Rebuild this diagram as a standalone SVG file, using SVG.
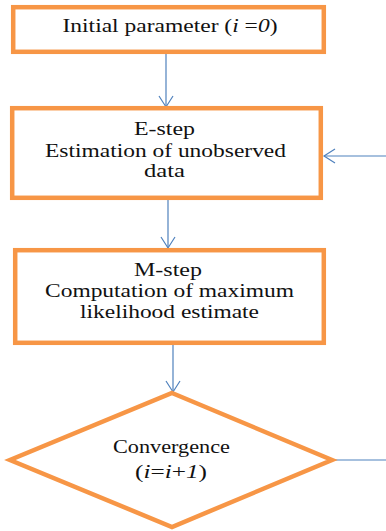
<svg xmlns="http://www.w3.org/2000/svg" width="386" height="531" viewBox="0 0 386 531">
<defs>
<style>
.box{fill:#fff;stroke:#F79646;stroke-width:4.5}
.lnk{fill:none;stroke:#4F81BD;stroke-width:1.2}
.t{font-family:'Liberation Serif','DejaVu Serif',Times,serif;font-size:18px;fill:#111;text-anchor:middle}
.i{font-style:italic}
</style>
<marker id="ah" markerWidth="14" markerHeight="16" refX="12" refY="8" orient="auto" markerUnits="userSpaceOnUse">
<path d="M1,1 L12,8 L1,15" fill="none" stroke="#4F81BD" stroke-width="1.2"/>
</marker>
</defs>
<rect width="386" height="531" fill="#fff"/>
<g id="connectors">
<line class="lnk" x1="166" y1="54" x2="166" y2="107" marker-end="url(#ah)"/>
<line class="lnk" x1="168" y1="200" x2="168" y2="248" marker-end="url(#ah)"/>
<line class="lnk" x1="173" y1="345" x2="173" y2="392" marker-end="url(#ah)"/>
<line class="lnk" x1="386" y1="156" x2="324" y2="156" marker-end="url(#ah)"/>
<line class="lnk" x1="332" y1="460" x2="386" y2="460"/>
</g>
<g id="init">
<rect class="box" x="13.2" y="7.2" width="310.6" height="44.6"/>
<text class="t" font-family="Liberation Serif, serif" x="170" y="32" textLength="215" lengthAdjust="spacingAndGlyphs">Initial parameter (<tspan class="i">i</tspan> =<tspan class="i">0</tspan>)</text>
</g>
<g id="estep">
<rect class="box" x="12.2" y="108.2" width="308.6" height="89.6"/>
<text class="t" x="164.5" y="135" textLength="61" lengthAdjust="spacingAndGlyphs">E-step</text>
<text class="t" x="165.5" y="157" textLength="241" lengthAdjust="spacingAndGlyphs">Estimation of unobserved</text>
<text class="t" x="164.5" y="177" textLength="41" lengthAdjust="spacingAndGlyphs">data</text>
</g>
<g id="mstep">
<rect class="box" x="15.2" y="250.2" width="308.6" height="92.6"/>
<text class="t" x="168" y="276" textLength="68" lengthAdjust="spacingAndGlyphs">M-step</text>
<text class="t" x="169.5" y="297" textLength="249" lengthAdjust="spacingAndGlyphs">Computation of maximum</text>
<text class="t" x="169.5" y="318" textLength="179" lengthAdjust="spacingAndGlyphs">likelihood estimate</text>
</g>
<g id="convergence">
<polygon class="box" points="172,393 332,460 172,527 10,460"/>
<text class="t" x="171.5" y="453" textLength="117" lengthAdjust="spacingAndGlyphs">Convergence</text>
<text class="t" x="171" y="478" textLength="72" lengthAdjust="spacingAndGlyphs">(<tspan class="i">i</tspan>=<tspan class="i">i</tspan>+<tspan class="i">1</tspan>)</text>
</g>
</svg>
